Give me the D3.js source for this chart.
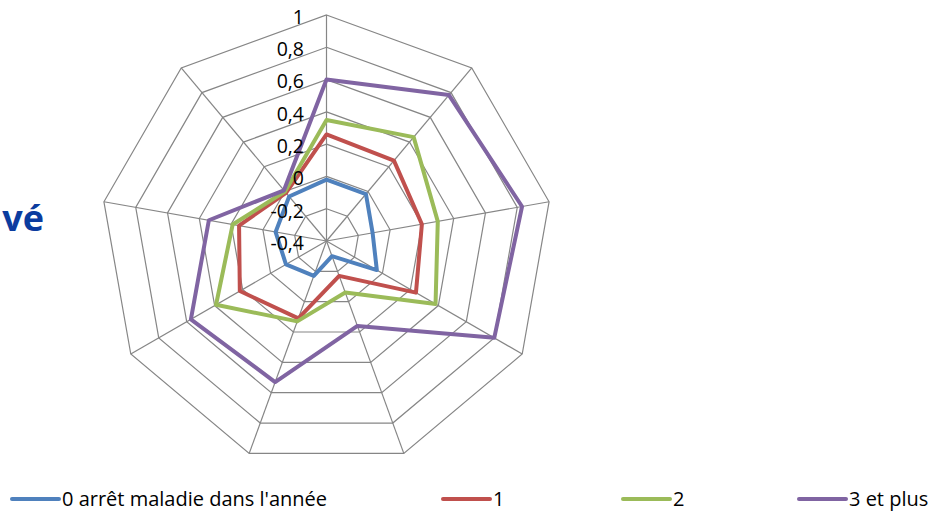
<!DOCTYPE html>
<html>
<head>
<meta charset="utf-8">
<script src="https://cdn.jsdelivr.net/npm/d3@7.9.0/dist/d3.min.js"></script>
<style>
  body { margin: 0; background: #fff; }
  svg { display: block; }
  text { font-family: 'Open Sans', Lato, sans-serif; }
</style>
</head>
<body>
<svg id="chart" width="932" height="511"></svg>
<script>
const ticks = [-0.4, -0.2, 0, 0.2, 0.4, 0.6, 0.8, 1];
const axisCount = 9;

const seriesNames = ["0 arrêt maladie dans l'année", '1', '2', '3 et plus'];
const seriesColors = ['#4F81BD', '#C0504D', '#9BBB59', '#8064A2'];

const zeroArret = [-0.02, -0.02, -0.11, -0.04, -0.30, -0.17, -0.11, -0.08, -0.04];
const unArret   = [0.26, 0.25, 0.20, 0.24, -0.17, 0.11, 0.22, 0.15, -0.01];
const deuxArrets = [0.35, 0.44, 0.30, 0.38, -0.06, 0.13, 0.39, 0.19, 0.0];
const troisPlus = [0.60, 0.78, 0.83, 0.80, 0.16, 0.53, 0.57, 0.34, 0.01];

const series = [zeroArret, unArret, deuxArrets, troisPlus];

const svg = d3.select('#chart');
const cx = 326.5, cy = 241;
const R = 226;

const r = d3.scaleLinear().domain([-0.4, 1]).range([0, R]);
const angle = (i) => (i * 2 * Math.PI) / axisCount;

function pt(i, v) {
  const a = angle(i);
  return [cx + r(v) * Math.sin(a), cy - r(v) * Math.cos(a)];
}

const g = svg.append('g');

// rings
ticks.slice(1).forEach((t) => {
  const pts = d3.range(axisCount).map((i) => pt(i, t));
  g.append('polygon')
    .attr('points', pts.map((p) => p.join(',')).join(' '))
    .attr('fill', 'none')
    .attr('stroke', '#868686')
    .attr('stroke-width', 1.2);
});

// spokes
d3.range(axisCount).forEach((i) => {
  const [x, y] = pt(i, 1);
  g.append('line')
    .attr('x1', cx).attr('y1', cy)
    .attr('x2', x).attr('y2', y)
    .attr('stroke', '#868686')
    .attr('stroke-width', 1.2);
});

// series
const line = d3.line().curve(d3.curveLinearClosed);
series.forEach((vals, s) => {
  g.append('path')
    .attr('d', line(vals.map((v, i) => pt(i, v))))
    .attr('fill', 'none')
    .attr('stroke', seriesColors[s])
    .attr('stroke-width', 4)
    .attr('stroke-linejoin', 'round');
});

// tick labels
ticks.forEach((t) => {
  g.append('text')
    .attr('x', 304)
    .attr('y', cy - r(t) + 2)
    .attr('dy', '0.35em')
    .attr('text-anchor', 'end')
    .attr('font-size', 19.5)
    .attr('fill', '#000')
    .text(String(t).replace('.', ','));
});

// clipped title
svg.append('text')
  .attr('x', 44)
  .attr('y', 231)
  .attr('text-anchor', 'end')
  .attr('font-family', "'Liberation Sans', Arial, sans-serif")
  .attr('font-weight', 'bold')
  .attr('font-size', 36)
  .attr('fill', '#0B3C9F')
  .text('vé');

// legend
const legendX = [12, 443, 623, 799];
const legend = svg.append('g');
seriesNames.forEach((name, s) => {
  const x = legendX[s];
  legend.append('line')
    .attr('x1', x).attr('x2', x + 47)
    .attr('y1', 499).attr('y2', 499)
    .attr('stroke', seriesColors[s])
    .attr('stroke-width', 4)
    .attr('stroke-linecap', 'round');
  legend.append('text')
    .attr('x', x + 50)
    .attr('y', 499)
    .attr('dy', '0.35em')
    .attr('font-size', 20)
    .attr('fill', '#000')
    .text(name);
});
</script>
</body>
</html>
